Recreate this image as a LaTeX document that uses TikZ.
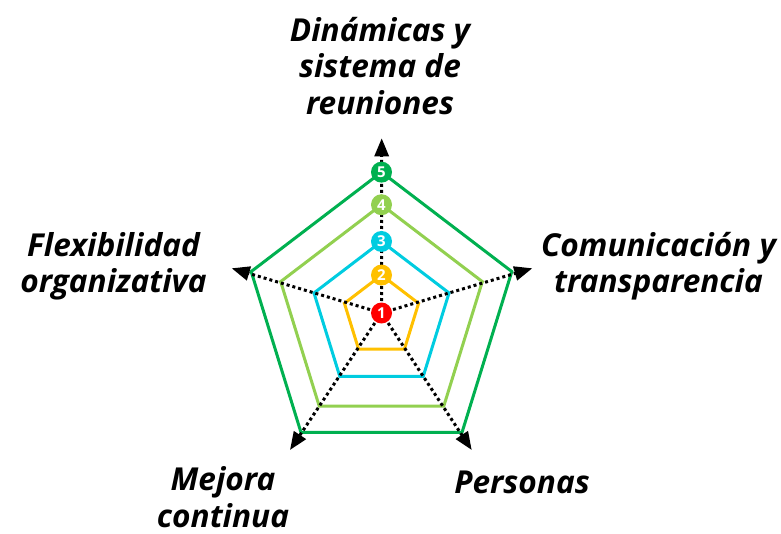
\documentclass[tikz,border=0pt]{standalone}
\usepackage{fontspec}
\setmainfont{Open Sans}
\usepackage{xcolor}
\definecolor{lvlone}{RGB}{255,0,0}
\definecolor{lvltwo}{RGB}{255,192,0}
\definecolor{lvlthree}{RGB}{0,204,224}
\definecolor{lvlfour}{RGB}{146,208,80}
\definecolor{lvlfive}{RGB}{0,176,80}
\usepackage{tikz}
\usetikzlibrary{arrows.meta,calc}
\tikzstyle{score}=[circle,minimum size=10.5pt,inner sep=0pt,text=white,font=\fontsize{7.5}{7.5}\selectfont\bfseries]
\tikzstyle{axis}=[line width=1.5pt,dash pattern=on 1.5pt off 1.5pt,-{Triangle[length=9pt,width=7pt]}]
\tikzstyle{ring}=[line width=1.5pt,line join=miter]
\tikzstyle{dimension}=[align=center,inner sep=0pt,font=\fontsize{15.8}{18.2}\selectfont\bfseries\itshape]

\begin{document}
\begin{tikzpicture}[x=0.5pt,y=-0.5pt]
\useasboundingbox (0,0) rectangle (781,534);
\coordinate (hub) at (381.5,313);
\coordinate (tip1) at (381.7,138.3);
\coordinate (tip2) at (231.7,268.3);
\coordinate (tip3) at (532.3,268.3);
\coordinate (tip4) at (290,450);
\coordinate (tip5) at (471.7,450);
\begin{scope}[shift={(381.5,316)},yscale=1.05]
  \foreach \lv/\r/\col in {2/39/lvltwo,3/71/lvlthree,4/106/lvlfour,5/137/lvlfive}
    \draw[ring,\col] (270:\r) -- (198:\r) -- (126:\r) -- (54:\r) -- (342:\r) -- cycle;
\end{scope}
\foreach \t in {1,...,5}
  \draw[axis] (hub) -- (tip\t);
\node[score,fill=lvlone] (n1) at (hub) {1};
\begin{scope}[shift={(381.5,316)},yscale=1.05]
  \foreach \lv/\r/\col in {2/39/lvltwo,3/71/lvlthree,4/106/lvlfour,5/137/lvlfive}
    \node[score,fill=\col] (n\lv) at (270:\r) {\lv};
\end{scope}
\node[dimension] (dyn) at (380,66) {Dinámicas y\\sistema de\\reuniones};
\node[dimension] (flex) at (113.5,266) {Flexibilidad\\organizativa};
\node[dimension] (comm) at (658.5,266) {Comunicación y\\transparencia};
\node[dimension] (impr) at (223,497) {Mejora\\continua};
\node[dimension] (pers) at (522,482) {Personas};
\end{tikzpicture}
\end{document}
